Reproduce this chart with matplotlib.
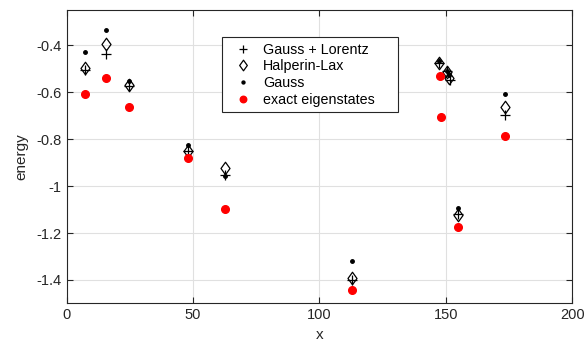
import matplotlib.pyplot as plt
from matplotlib.path import Path

plt.rcParams['font.family'] = ['Liberation Sans', 'DejaVu Sans']

# Gauss + Lorentz
gl_x = [7.2, 15.6, 24.5, 48.0, 62.6, 112.8, 147.4, 150.5, 151.6, 154.8, 173.2]
gl_y = [-0.507, -0.437, -0.572, -0.849, -0.953, -1.398, -0.474, -0.511, -0.550, -1.120, -0.696]

# Halperin-Lax
hl_x = [7.2, 15.6, 24.5, 48.0, 62.6, 112.8, 147.4, 150.5, 151.3, 154.8, 173.2]
hl_y = [-0.497, -0.394, -0.571, -0.849, -0.924, -1.390, -0.475, -0.515, -0.539, -1.123, -0.665]

# Gauss
g_x = [7.2, 15.6, 24.5, 48.0, 62.6, 112.8, 147.4, 150.5, 151.4, 154.8, 173.2]
g_y = [-0.430, -0.333, -0.554, -0.824, -0.958, -1.319, -0.465, -0.511, -0.525, -1.092, -0.606]

# exact eigenstates
ex_x = [7.2, 15.6, 24.5, 48.0, 62.6, 112.8, 147.5, 148.0, 154.8, 173.2]
ex_y = [-0.608, -0.539, -0.663, -0.880, -1.099, -1.444, -0.532, -0.705, -1.173, -0.785]

# octave-like diamond, a bit taller than wide
diamond = Path([(0, 1), (0.72, 0), (0, -1), (-0.72, 0), (0, 1)],
               [Path.MOVETO, Path.LINETO, Path.LINETO, Path.LINETO, Path.CLOSEPOLY])

fig = plt.figure(figsize=(5.84, 3.48), dpi=100)
ax = fig.add_axes([0.114, 0.128, 0.866, 0.843])

ax.plot(gl_x, gl_y, '+', color='black', markersize=7, markeredgewidth=0.9, label='Gauss + Lorentz')
ax.plot(hl_x, hl_y, marker=diamond, linestyle='none', markerfacecolor='none',
        markeredgecolor='black', markersize=9, markeredgewidth=0.9, label='Halperin-Lax')
ax.plot(g_x, g_y, '.', color='black', markersize=5, label='Gauss')
ax.plot(ex_x, ex_y, 'o', color='red', markersize=5.5, label='exact eigenstates')

ax.set_xlim(0, 200)
ax.set_ylim(-1.5, -0.25)
ax.set_xticks([0, 50, 100, 150, 200])
ax.set_yticks([-1.4, -1.2, -1, -0.8, -0.6, -0.4])
ax.set_yticklabels(['-1.4', '-1.2', '-1', '-0.8', '-0.6', '-0.4'])
ax.set_xlabel('x', fontsize=11, color='#262626')
ax.set_ylabel('energy', fontsize=11, color='#262626', labelpad=6)

ax.grid(True, color='#e0e0e0', linewidth=0.8)
ax.set_axisbelow(True)
ax.tick_params(direction='in', top=True, right=True, length=4, labelsize=10.5,
               colors='#262626')
for s in ax.spines.values():
    s.set_color('#262626')
    s.set_linewidth(0.8)

leg = ax.legend(loc='upper left', bbox_to_anchor=(0.307, 0.908, 0.348, 0.0),
                mode='expand', borderaxespad=0,
                fontsize=10.3, fancybox=False, framealpha=1, edgecolor='#262626',
                markerscale=0.85, handletextpad=0.3, borderpad=0.4,
                labelspacing=0.18, handlelength=2.2)
leg.get_frame().set_linewidth(0.8)

fig.savefig('out.png')
